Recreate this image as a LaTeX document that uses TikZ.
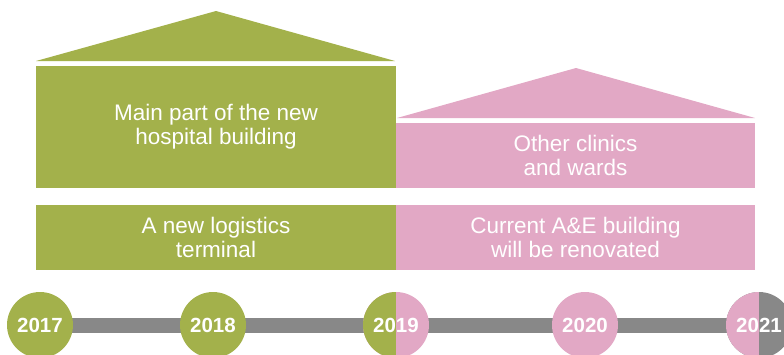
\documentclass[tikz,border=0pt]{standalone}
\usepackage{fontspec}
\setmainfont{Liberation Sans}
\usepackage{xcolor}
\usetikzlibrary{positioning}

\definecolor{hgreen}{HTML}{A3B14B}
\definecolor{hpink}{HTML}{E2A8C5}
\definecolor{hgray}{HTML}{888888}

\begin{document}
\begin{tikzpicture}[
        x=1pt, y=-1pt,
        block/.style={rectangle, inner sep=0pt, outer sep=0pt, text=white, align=center, font=\fontsize{22.5}{24}\selectfont},
        roof/.style={fill=#1},
        year/.style={circle, fill=#1, inner sep=0pt, outer sep=0pt, minimum size=66pt, text=white, font=\fontsize{20.5}{24}\selectfont\bfseries},
        timeline/.style={draw=hgray, line width=15pt}
    ]
        \useasboundingbox (0,0) rectangle (784,354);
        \clip (0,0) rectangle (784,354);

        % Roofs
        \fill[roof=hgreen] (36,61) -- (216,11) -- (395,61) -- cycle;
        \fill[roof=hpink] (397,118) -- (576,68) -- (755,118) -- cycle;

        % Upper buildings
        \node[block, fill=hgreen, minimum width=360pt, minimum height=122pt] (mainpart) at (216,127) {Main part of the new\\hospital building};
        \node[block, fill=hpink, minimum width=359pt, minimum height=65pt] (clinics) at (575.5,155.5) {Other clinics\\and wards};

        % Lower buildings
        \node[block, fill=hgreen, minimum width=360pt, minimum height=65pt] (logistics) at (216,237.5) {A new logistics\\terminal};
        \node[block, fill=hpink, minimum width=359pt, minimum height=65pt] (emergency) at (575.5,237.5) {Current A\&E building\\will be renovated};

        % Timeline
        \coordinate (barstart) at (40,325);
        \coordinate (barend) at (784,325);
        \draw[timeline] (barstart) -- (barend);

        \node[year=hgreen] (y2017) at (40,325) {2017};
        \node[year=hgreen] (y2018) at (213,325) {2018};
        \node[year=hpink, path picture={\fill[hgreen] (path picture bounding box.south west) rectangle (path picture bounding box.north);}] (y2019) at (396,325) {2019};
        \node[year=hpink] (y2020) at (585,325) {2020};
        \node[year=hgray, path picture={\fill[hpink] (path picture bounding box.south west) rectangle (path picture bounding box.north);}] (y2021) at (759,325) {2021};
    \end{tikzpicture}
\end{document}
